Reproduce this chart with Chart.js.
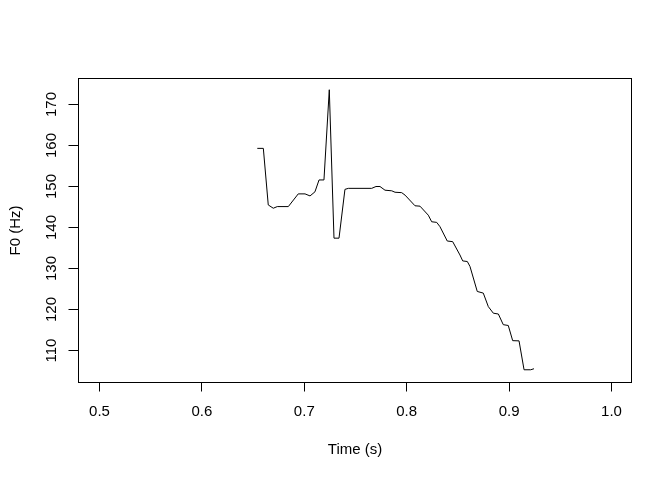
<!DOCTYPE html>
<html>
<head>
<meta charset="utf-8">
<script src="https://cdn.jsdelivr.net/npm/chart.js@4"></script>
<style>
  html, body { margin: 0; padding: 0; background: #ffffff; }
  #wrap { width: 672px; height: 480px; }
</style>
</head>
<body>
<div id="wrap"><canvas id="c" width="672" height="480"></canvas></div>
<script>
// ---- data ----
const timeS = [0.6541, 0.6600, 0.6648, 0.6697, 0.6736, 0.6844, 0.6941, 0.7007, 0.7056, 0.7104,
  0.7144, 0.7192, 0.7244, 0.7290, 0.7339, 0.7397, 0.7430, 0.7658, 0.7700, 0.7739,
  0.7788, 0.7854, 0.7886, 0.7951, 0.7984, 0.8081, 0.8130, 0.8211, 0.8244, 0.8293,
  0.8325, 0.8396, 0.8449, 0.8520, 0.8547, 0.8592, 0.8618, 0.8689, 0.8748, 0.8797,
  0.8846, 0.8895, 0.8943, 0.8992, 0.9035, 0.9097, 0.9146, 0.9211, 0.9243];
const f0Hz = [159.3, 159.3, 145.5, 144.7, 145.1, 145.1, 148.2, 148.2, 147.7, 148.7,
  151.6, 151.6, 173.6, 137.4, 137.4, 149.3, 149.55, 149.55, 150.0, 150.0,
  149.1, 148.95, 148.6, 148.5, 147.9, 145.3, 145.2, 143.0, 141.4, 141.25,
  140.2, 136.7, 136.55, 133.3, 131.85, 131.7, 130.5, 124.4, 124.0, 120.7,
  119.1, 118.9, 116.3, 116.1, 112.4, 112.35, 105.3, 105.3, 105.55];
const xTickValues = [0.5, 0.6, 0.7, 0.8, 0.9, 1.0];
const xTickLabels = ['0.5', '0.6', '0.7', '0.8', '0.9', '1.0'];
const yTickValues = [110, 120, 130, 140, 150, 160, 170];
const yTickLabels = ['110', '120', '130', '140', '150', '160', '170'];
const xTitle = 'Time (s)';
const yTitle = 'F0 (Hz)';

// ---- styling ----
const FONT = { family: '"Liberation Sans", Arial, sans-serif', size: 15 };

const boxAndYLabels = {
  id: 'boxAndYLabels',
  afterDraw(chart) {
    const ctx = chart.ctx;
    const a = chart.chartArea;
    ctx.save();
    ctx.strokeStyle = '#000';
    ctx.lineWidth = 1;
    ctx.strokeRect(a.left, a.top, a.right - a.left, a.bottom - a.top);
    // rotated y tick labels (R style, las = 0)
    const ys = chart.scales.y;
    ctx.fillStyle = '#000';
    ctx.font = FONT.size + 'px ' + FONT.family;
    ctx.textAlign = 'center';
    ctx.textBaseline = 'alphabetic';
    ys.ticks.forEach((t, i) => {
      const py = ys.getPixelForValue(t.value);
      ctx.save();
      ctx.translate(56, py);
      ctx.rotate(-Math.PI / 2);
      ctx.fillText(yTickLabels[i], 0, 0);
      ctx.restore();
    });
    ctx.restore();
  }
};

new Chart(document.getElementById('c'), {
  type: 'line',
  data: {
    datasets: [{
      data: timeS.map((t, i) => ({ x: t, y: f0Hz[i] })),
      borderColor: '#000000',
      borderWidth: 1,
      pointRadius: 0,
      fill: false,
      tension: 0
    }]
  },
  options: {
    responsive: false,
    animation: false,
    devicePixelRatio: 1,
    layout: { padding: { left: 0, top: 78.5, right: 40.5, bottom: 0 } },
    plugins: { legend: { display: false }, tooltip: { enabled: false } },
    scales: {
      x: {
        type: 'linear',
        min: 0.5 - 21 / 1024,
        max: 1.0 + 20 / 1024,
        afterBuildTicks: (s) => { s.ticks = xTickValues.map(v => ({ value: v })); },
        afterFit: (s) => { s.height = 97.5; },
        grid: { display: true, drawOnChartArea: false, drawTicks: true, tickLength: 9, color: '#000', tickColor: '#000', lineWidth: 1 },
        border: { display: false },
        ticks: {
          autoSkip: false, maxRotation: 0, minRotation: 0, padding: 11.7,
          color: '#000', font: FONT,
          callback: (v, i) => xTickLabels[i]
        },
        title: { display: true, text: xTitle, color: '#000', font: FONT, padding: { top: 0, bottom: 21.2 } }
      },
      y: {
        type: 'linear',
        min: 110 - 32 / 4.1,
        max: 170 + 26 / 4.1,
        afterBuildTicks: (s) => { s.ticks = yTickValues.map(v => ({ value: v })); },
        afterFit: (s) => { s.width = 78.5; },
        grid: { display: true, drawOnChartArea: false, drawTicks: true, tickLength: 10, color: '#000', tickColor: '#000', lineWidth: 1 },
        border: { display: false },
        ticks: { display: false },
        title: { display: true, text: yTitle, color: '#000', font: FONT, padding: { top: 6.5, bottom: 0 } }
      }
    }
  },
  plugins: [boxAndYLabels]
});
</script>
</body>
</html>
